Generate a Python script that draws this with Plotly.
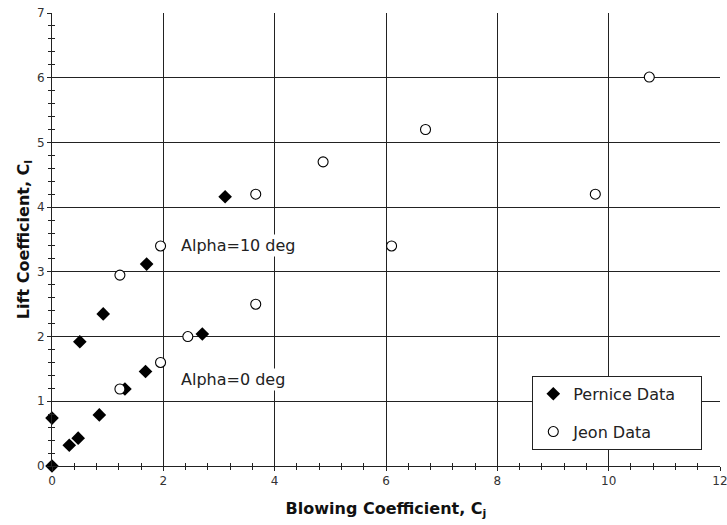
import plotly.graph_objects as go

# Pernice data (diamonds): blowing coefficient vs. lift coefficient
pernice_cj = [0.0, 0.0, 0.31, 0.47, 0.85, 1.31, 1.68, 2.70, 0.50, 0.92, 1.70, 3.11]
pernice_cl = [0.0, 0.74, 0.32, 0.43, 0.79, 1.19, 1.46, 2.04, 1.92, 2.35, 3.12, 4.16]

# Jeon data (open circles)
jeon_cj = [1.22, 1.95, 2.44, 3.66, 1.22, 1.95, 3.66, 4.87, 6.10, 6.71, 9.76, 10.73]
jeon_cl = [1.19, 1.60, 2.00, 2.50, 2.95, 3.40, 4.20, 4.70, 3.40, 5.20, 4.20, 6.01]

# Text labels for the two angle-of-attack groups
notes = ["Alpha=10 deg", "Alpha=0 deg"]
note_x = [2.28, 2.28]
note_y = [3.40, 1.33]

FONT = "Verdana, DejaVu Sans, sans-serif"
PAD = "\u00a0" * 4  # widens the legend box on the right

fig = go.Figure()
fig.add_trace(go.Scatter(
    x=pernice_cj, y=pernice_cl, mode="markers", name="Pernice Data" + PAD,
    legendgroup="p",
    marker=dict(symbol="diamond", size=10.5, color="black", line=dict(width=0)),
    cliponaxis=False,
))
fig.add_trace(go.Scatter(
    x=jeon_cj, y=jeon_cl, mode="markers", name="Jeon Data",
    legendgroup="j",
    marker=dict(symbol="circle", size=10, color="white",
                line=dict(color="black", width=1.1)),
    cliponaxis=False,
))
# empty trace so the overlay axes (inside half of the crossing ticks) are drawn
fig.add_trace(go.Scatter(x=[], y=[], xaxis="x2", yaxis="y2",
                         showlegend=False, hoverinfo="skip"))

for txt, x, y in zip(notes, note_x, note_y):
    fig.add_annotation(x=x, y=y, text=txt, showarrow=False, xanchor="left",
                       yanchor="middle", bgcolor="white",
                       font=dict(family=FONT, size=16, color="#222"))

axis_common = dict(showline=True, linecolor="#222", linewidth=1,
                   zeroline=False, showgrid=True, gridcolor="#222",
                   gridwidth=1, ticks="outside", ticklen=4, tickcolor="#222",
                   ticklabeloverflow="allow", automargin=False,
                   tickfont=dict(family=FONT, size=12, color="#333"))

fig.update_layout(
    width=727, height=525,
    margin=dict(l=52, r=7, t=13, b=59),
    paper_bgcolor="white", plot_bgcolor="white",
    showlegend=True,
    legend=dict(x=0.719, y=0.199, xanchor="left", yanchor="top",
                bordercolor="#222", borderwidth=1, bgcolor="white",
                font=dict(family=FONT, size=16, color="#222"),
                tracegroupgap=14, traceorder="grouped"),
    xaxis=dict(range=[0, 12], dtick=2, **axis_common,
               minor=dict(dtick=0.4, ticks="outside", ticklen=3,
                          tickcolor="#222", showgrid=False),
               title=dict(text="<b>Blowing Coefficient, C<sub>j</sub></b>",
                          font=dict(family=FONT, size=16, color="#111"),
                          standoff=15)),
    yaxis=dict(range=[0, 7], dtick=1, **axis_common,
               minor=dict(dtick=0.2, ticks="outside", ticklen=3,
                          tickcolor="#222", showgrid=False),
               title=dict(text="<b>Lift Coefficient, C<sub>l</sub></b>",
                          font=dict(family=FONT, size=16, color="#111"),
                          standoff=3)),
    xaxis2=dict(range=[0, 12], overlaying="x", anchor="y2", side="bottom",
                showgrid=False, zeroline=False, showline=False,
                showticklabels=False, ticks="inside", dtick=0.4,
                ticklen=3, tickcolor="#222"),
    yaxis2=dict(range=[0, 7], overlaying="y", anchor="x2", side="left",
                showgrid=False, zeroline=False, showline=False,
                showticklabels=False, ticks="inside", dtick=0.2,
                ticklen=3, tickcolor="#222"),
)

fig.write_html("out.html")
